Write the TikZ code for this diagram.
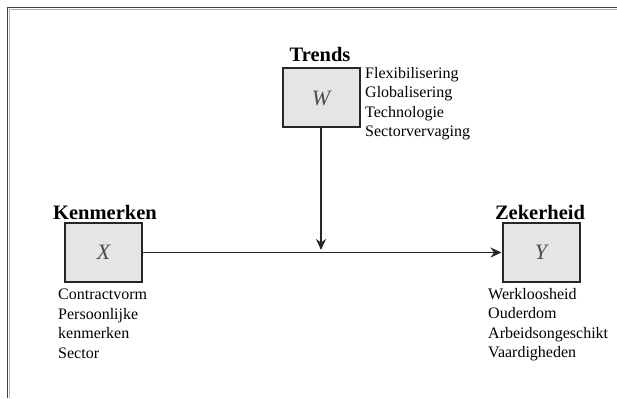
\documentclass[tikz,border=0pt]{standalone}
\usepackage{fontspec}
\setmainfont{Liberation Serif}
\usetikzlibrary{arrows.meta}
\begin{document}
\begin{tikzpicture}[x=1pt,y=-1pt,
  varbox/.style={draw=black!85,line width=2pt,fill=black!10,text=black!70,minimum width=77pt,minimum height=59pt,inner sep=0pt,font=\fontsize{22}{22}\selectfont\itshape},
  ttl/.style={font=\fontsize{20.5}{21}\selectfont\bfseries,inner sep=0pt,anchor=base},
  lst/.style={font=\fontsize{16}{19.5}\selectfont,align=left,inner sep=0pt,anchor=north west},
  conn/.style={line width=1.8pt,draw=black!85,-{Stealth[length=11pt,width=10pt]}}]
\useasboundingbox (0,0) rectangle (617,398);
% frame
\draw[black!75,line width=1.5pt] (7.5,398) -- (7.5,7.5) -- (617,7.5);
\draw[black!30,line width=0.6pt] (9.5,398) -- (9.5,9.5) -- (617,9.5);
% boxes
\node[varbox] (W) at (321,98) {W};
\node[varbox] (X) at (103.5,252.5) {X};
\node[varbox] (Y) at (541,252.5) {Y};
% titles
\node[ttl] (tW) at (320,62) {Trends};
\node[ttl] (tX) at (105,219) {Kenmerken};
\node[ttl] (tY) at (540,219) {Zekerheid};
% lists
\node[lst] (lW) at (365,67) {Flexibilisering\\Globalisering\\Technologie\\Sectorvervaging};
\node[lst] (lX) at (58,289) {Contractvorm\\Persoonlijke\\kenmerken\\Sector};
\node[lst] (lY) at (488,288) {Werkloosheid\\Ouderdom\\Arbeidsongeschikt\\Vaardigheden};
% connectors
\draw[conn] (X.east) -- (Y.west);
\coordinate (m) at (W.south |- 0,250);
\draw[conn] (W.south) -- (m);
\end{tikzpicture}
\end{document}
